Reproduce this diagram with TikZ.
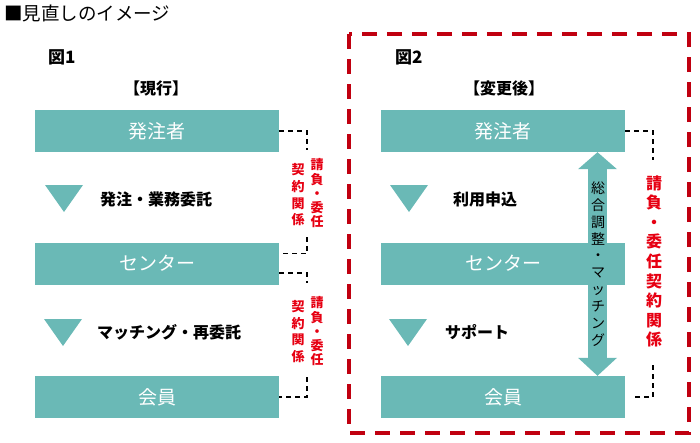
\documentclass[tikz,border=0pt]{standalone}
\usepackage{fontspec}
\setmainfont{Noto Sans CJK JP}
\usetikzlibrary{arrows.meta}
\definecolor{teal1}{HTML}{6AB9B6}
\definecolor{dred}{HTML}{C00010}
\definecolor{tred}{HTML}{E60012}
\begin{document}
\begin{tikzpicture}[x=1pt,y=-1pt,
  box/.style={fill=teal1, minimum width=244pt, minimum height=42pt, inner sep=0pt, text=white, font=\fontsize{19}{19}\selectfont},
  lab/.style={anchor=west, inner sep=0pt, font=\fontsize{16}{16}\selectfont\bfseries},
  head/.style={inner sep=0pt, font=\fontsize{16}{16}\selectfont\bfseries},
  conn/.style={draw=black, line width=1.3pt, dash pattern=on 5pt off 4pt},
  tri/.style={fill=teal1},
  vsmall/.style={inner sep=0pt, align=center, text=tred, font=\fontsize{13}{#1}\selectfont\bfseries},
  vbig/.style={inner sep=0pt, align=center, text=tred, font=\fontsize{16}{19.6}\selectfont\bfseries},
  varrow/.style={inner sep=0pt, align=center, text=black, font=\fontsize{14}{16.9}\selectfont},
  frame/.style={draw=dred, line width=4pt, dash pattern=on 15pt off 10pt}
]
\useasboundingbox (0,0) rectangle (700,442);

% title
\node[anchor=west, inner sep=0pt, font=\fontsize{18.5}{18.5}\selectfont] (title) at (4,13) {■見直しのイメージ};

% ---- Figure 1 ----
\node[anchor=west, inner sep=0pt, font=\fontsize{17}{17}\selectfont\bfseries] (fig1) at (48,57) {図1};
\node[head] (h1) at (156,88) {【現行】};
\node[box] (L1) at (157,131) {発注者};
\node[box] (L2) at (157,263.5) {センター};
\node[box] (L3) at (157,397) {会員};

\fill[tri] (45,185) -- (83,185) -- (64,212) -- cycle;
\node[lab] (la1) at (100,199) {発注・業務委託};
\fill[tri] (44,319) -- (82,319) -- (63,346) -- cycle;
\node[lab] (la2) at (97,332) {マッチング・再委託};

\node[vsmall=14.25] (v1a) at (317,193.5) {請\\負\\・\\委\\任};
\node[vsmall=16.7] (v1b) at (298,195) {契\\約\\関\\係};
\node[vsmall=14.25] (v2a) at (317,331.5) {請\\負\\・\\委\\任};
\node[vsmall=16.7] (v2b) at (298,331.5) {契\\約\\関\\係};

\coordinate (c1) at (307,150);
\coordinate (c2) at (307,237);
\coordinate (c3) at (307,283);
\coordinate (c4) at (307,377);
\draw[conn] (L1.east) -| (c1);
\draw[conn] (c2) |- ([yshift=10pt]L2.east);
\draw[conn] ([yshift=-9.5pt]L2.east) -| (c3);
\draw[conn] (c4) |- (L3.east);

% ---- Figure 2 ----
\draw[frame] (349,34) rectangle (689,433);
\node[anchor=west, inner sep=0pt, font=\fontsize{17}{17}\selectfont\bfseries] (fig2) at (395,57) {図2};
\node[head] (h2) at (504,88) {【変更後】};
\node[box] (R1) at (503,131) {発注者};
\node[box] (R2) at (503,263.5) {センター};
\node[box] (R3) at (503,397) {会員};

\fill[tri] (390,185) -- (428,185) -- (409,212) -- cycle;
\node[lab] (lb1) at (453,199) {利用申込};
\fill[tri] (389,319) -- (427,319) -- (408,346) -- cycle;
\node[lab] (lb2) at (445,332) {サポート};

\coordinate (ax) at (597.5,0);
\draw[teal1, line width=19pt,
  {Triangle[width=39pt,length=17pt,line width=0pt]}-{Triangle[width=39pt,length=18pt,line width=0pt]}]
  (R1.south -| ax) -- (R3.north -| ax);
\node[varrow] (va) at (598,264) {総\\合\\調\\整\\・\\マ\\ッ\\チ\\ン\\グ};

\node[vbig] (vr) at (654,261.5) {請\\負\\・\\委\\任\\契\\約\\関\\係};
\coordinate (d1) at (653,160);
\coordinate (d2) at (653,365);
\draw[conn] (R1.east) -| (d1);
\draw[conn] (d2) |- ([xshift=8pt]R3.east);
\end{tikzpicture}
\end{document}
